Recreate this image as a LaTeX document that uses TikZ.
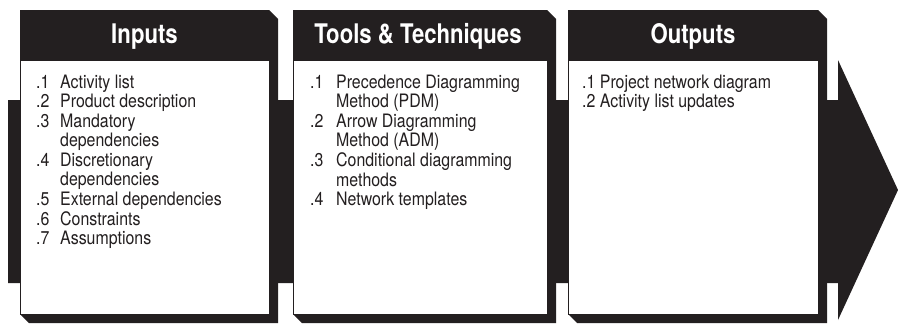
\documentclass[tikz,border=0pt]{standalone}
\usepackage{fontspec}
\setmainfont{TeX Gyre Heros}[FakeStretch=0.86]
\newfontfamily\titlefont{TeX Gyre Heros}[FakeStretch=0.82]
\definecolor{ink}{HTML}{231F20}
\newcommand\procbox[2]{% x0, x1
  \fill[ink] (#1,10) -- (#2,10) -- (#2+9,19) -- (#2+9,323) -- (#1+9,323) -- (#1,314) -- cycle;
  \filldraw[fill=white, draw=ink, line width=0.8pt] (#1,60) rectangle (#2,314);
}
\tikzset{
  title/.style={text=white, font=\titlefont\bfseries\fontsize{27}{30}\selectfont, anchor=base, inner sep=0pt},
  listtext/.style={text=ink, font=\fontsize{18.5}{19.6}\selectfont, anchor=base west, inner sep=0pt, align=left}
}
\begin{document}
\begin{tikzpicture}[x=1pt, y=-1pt]
\useasboundingbox (0,0) rectangle (898,324);
% background arrow
\fill[ink] (8,100) -- (838,100) -- (838,60) -- (898,190) -- (838,320) -- (838,283) -- (8,283) -- cycle;
\procbox{20}{269}
\procbox{293}{547}
\procbox{568}{818}
\node[title] (t1) at (144.5,43) {Inputs};
\node[title] (t2) at (418,43) {Tools \& Techniques};
\node[title] (t3) at (693,43) {Outputs};
\node[listtext] (l1) at (36,88) {\begin{tabular}[t]{@{}p{24pt}@{}l@{}}
.1 & Activity list\\
.2 & Product description\\
.3 & Mandatory\\
   & dependencies\\
.4 & Discretionary\\
   & dependencies\\
.5 & External dependencies\\
.6 & Constraints\\
.7 & Assumptions
\end{tabular}};
\node[listtext] (l2) at (310,88) {\begin{tabular}[t]{@{}p{26pt}@{}l@{}}
.1 & Precedence Diagramming\\
   & Method (PDM)\\
.2 & Arrow Diagramming\\
   & Method (ADM)\\
.3 & Conditional diagramming\\
   & methods\\
.4 & Network templates
\end{tabular}};
\node[listtext] (l3) at (582,88) {\begin{tabular}[t]{@{}l@{}}
.1 Project network diagram\\
.2 Activity list updates
\end{tabular}};
\end{tikzpicture}
\end{document}
